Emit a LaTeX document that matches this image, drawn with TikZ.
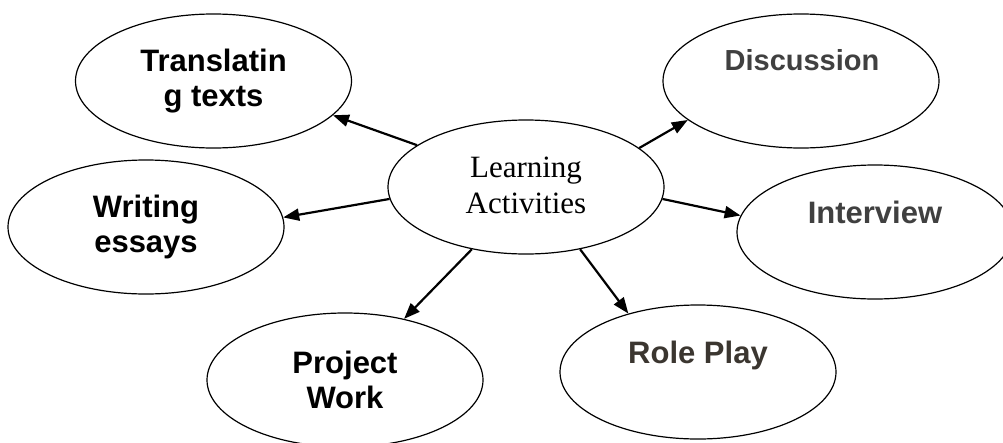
\documentclass[tikz,border=0pt]{standalone}
\usepackage{fontspec}
\setmainfont{Liberation Serif}
\newfontfamily\arialfont{Liberation Sans}
\usetikzlibrary{arrows.meta,shapes.geometric}
\definecolor{txtgray}{HTML}{404040}
\definecolor{txtbrown}{HTML}{3B3630}
\begin{document}
\begin{tikzpicture}[x=1pt,y=-1pt,
  bubble/.style={ellipse, draw, line width=1.2pt, minimum width=276pt, minimum height=134pt, inner sep=0pt},
  lbl/.style={font=\arialfont\bfseries\fontsize{31}{35}\selectfont, align=center, inner sep=0pt},
  mid/.style={font=\fontsize{31}{36}\selectfont, align=center, inner sep=0pt},
  link/.style={line width=2.2pt, -{Triangle[length=16pt,width=12pt]}}]
\useasboundingbox (0,0) rectangle (1003,442);
\clip (0,0) rectangle (1003,442);
% ellipses
\node[bubble] (c) at (526,187) {};
\node[bubble] (t) at (213.5,81) {};
\node[bubble] (d) at (801,81) {};
\node[bubble] (w) at (146,227) {};
\node[bubble] (i) at (875,232) {};
\node[bubble] (p) at (345,380) {};
\node[bubble] (r) at (698,372) {};
% labels
\node[mid] (cl) at (526,185) {Learning\\Activities};
\node[lbl] (tl) at (213.5,81) {Translatin\\g texts};
\node[lbl] (wl) at (146,227) {Writing\\essays};
\node[lbl] (pl) at (345,380) {Project\\Work};
\node[lbl, anchor=base, text=txtgray, font=\arialfont\bfseries\fontsize{29}{35}\selectfont] (dl) at (802,70) {Discussion};
\node[lbl, anchor=base, text=txtgray] (il) at (875,223) {Interview};
\node[lbl, anchor=base, text=txtbrown] (rl) at (698,363) {Role Play};
% connectors
\draw[link] (c.159.3) -- (t.344);
\draw[link] (c.185) -- (w.4);
\draw[link] (c.19.8) -- (d.199.7);
\draw[link] (c.-5) -- (i.173.8);
\draw[link] (c.229.4) -- (p.46.5);
\draw[link] (c.311) -- (r.140.3);
\end{tikzpicture}
\end{document}
